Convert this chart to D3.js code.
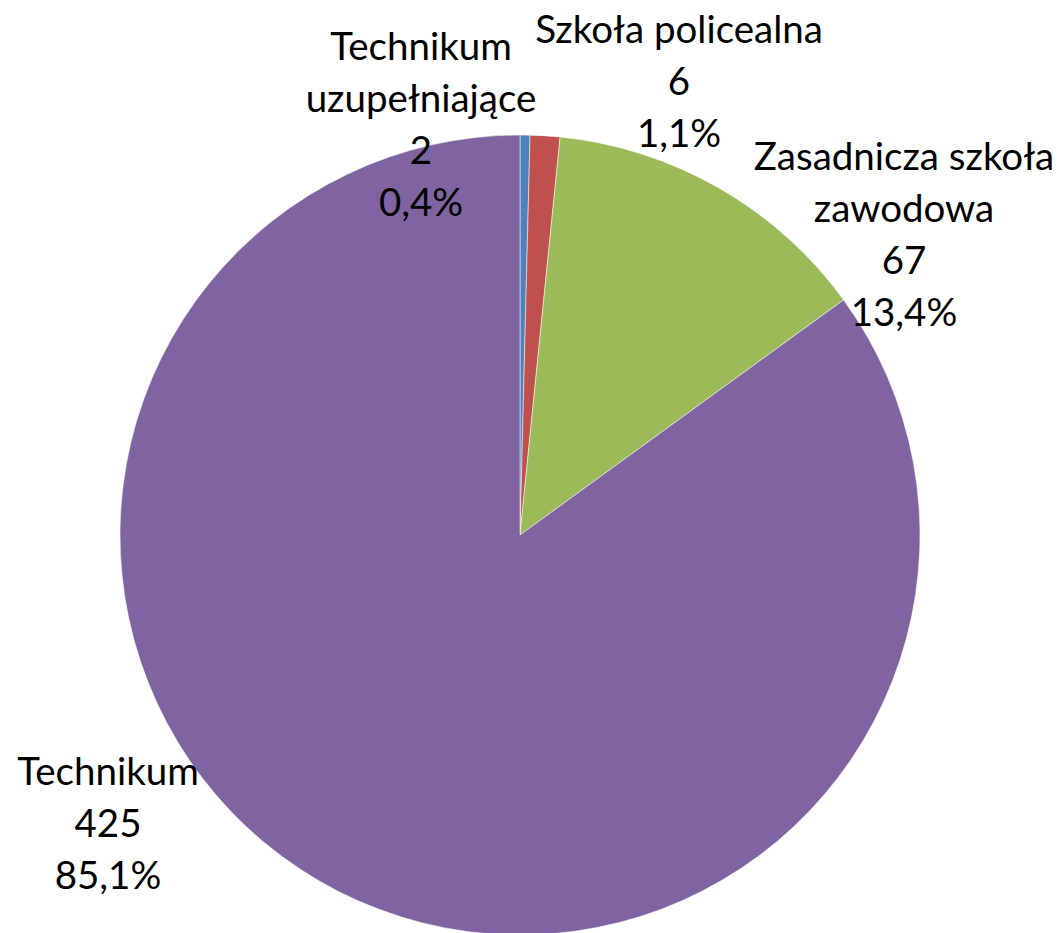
<!doctype html>
<html>
  <head>
    <meta charset="utf-8">
    <script src="https://d3js.org/d3.v7.min.js"></script>
    <style>
      body { margin: 0; background: #fff; }
      text { font-family: Lato, "Open Sans", sans-serif; fill: #000; }
    </style>
  </head>
  <body>
    <svg id="chart" width="1060" height="933"></svg>
    <script>
      var categories = ['Technikum uzupełniające', 'Szkoła policealna', 'Zasadnicza szkoła zawodowa', 'Technikum']
      var labelLines = [['Technikum', 'uzupełniające'], ['Szkoła policealna'], ['Zasadnicza szkoła', 'zawodowa'], ['Technikum']]
      var values = [2, 6, 67, 425]
      var percents = ['0,4%', '1,1%', '13,4%', '85,1%']
      var colors = ['#4F81BD', '#C0504D', '#9BBB59', '#8064A2']

      // label anchors (center x, first line y) - layout only
      var labelPos = [[421, 47], [679, 30], [904, 157], [108, 772]]

      var cx = 520, cy = 535, r = 400
      var lineH = 52

      var svg = d3.select('#chart')
      var g = svg.append('g').attr('transform', 'translate(' + cx + ',' + cy + ')')

      var pie = d3.pie().sort(null).value((d) => d)
      var arc = d3.arc().innerRadius(0).outerRadius(r)
      var arcs = pie(values)

      g.selectAll('path')
        .data(arcs)
        .enter()
        .append('path')
        .attr('d', arc)
        .attr('fill', (d, i) => colors[i])
        .attr('stroke', '#fff')
        .attr('stroke-width', 0.5)

      var labels = svg.selectAll('g.label')
        .data(arcs)
        .enter()
        .append('g')
        .attr('class', 'label')
        .attr('transform', (d, i) => 'translate(' + labelPos[i][0] + ',' + labelPos[i][1] + ')')

      labels.each(function (d, i) {
        var lines = labelLines[i].concat([String(values[i]), percents[i]])
        d3.select(this)
          .selectAll('text')
          .data(lines)
          .enter()
          .append('text')
          .attr('x', 0)
          .attr('y', (t, j) => j * lineH)
          .attr('dy', '0.35em')
          .attr('text-anchor', 'middle')
          .attr('font-size', 38.5)
          .text((t) => t)
      })
    </script>
  </body>
</html>
